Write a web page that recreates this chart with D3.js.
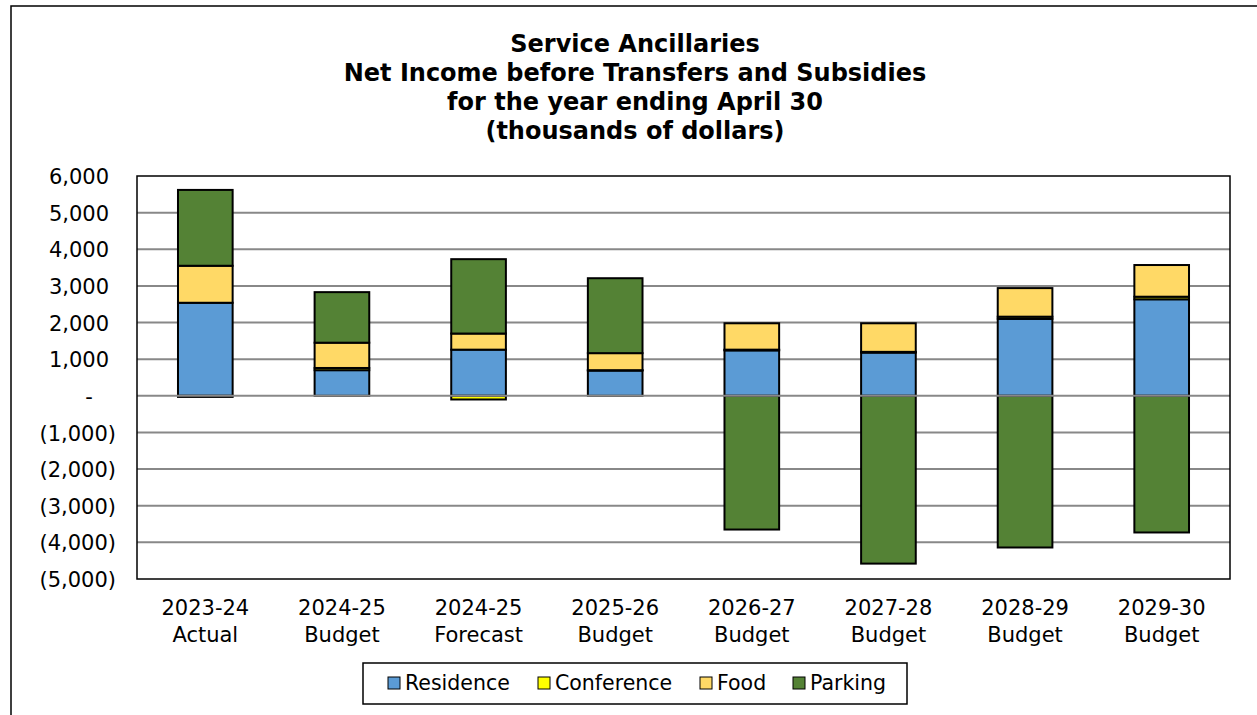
<!DOCTYPE html>
<html lang="en">
  <meta charset="utf-8" />
  <head>
    <title>Service Ancillaries</title>
    <script src="https://cdn.jsdelivr.net/npm/d3@7/dist/d3.min.js"></script>
    <style>
      body { margin: 0; background: #fff; }
      text { font-family: Verdana, "DejaVu Sans", sans-serif; fill: #000; }
    </style>
  </head>
  <body>
  <script>
    // DATA (thousands of dollars)
    var years    = ["2023-24", "2024-25", "2024-25", "2025-26", "2026-27", "2027-28", "2028-29", "2029-30"];
    var kinds    = ["Actual", "Budget", "Forecast", "Budget", "Budget", "Budget", "Budget", "Budget"];
    var residence  = [2540, 700, 1260, 690, 1240, 1180, 2100, 2635];
    var conference = [-30, 60, -100, 10, 20, 20, 60, 70];
    var food       = [1010, 690, 440, 465, 720, 780, 780, 865];
    var parking    = [2070, 1380, 2030, 2045, -3650, -4580, -4140, -3730];
    var seriesNames  = ["Residence", "Conference", "Food", "Parking"];
    var seriesColors = ["#5B9BD5", "#FFFF00", "#FFD966", "#548235"];
    var yTicks = [6000, 5000, 4000, 3000, 2000, 1000, 0, -1000, -2000, -3000, -4000, -5000];
    var titleLines = ["Service Ancillaries", "Net Income before Transfers and Subsidies",
                      "for the year ending April 30", "(thousands of dollars)"];

    // CONFIG
    var width = 1257, height = 715;
    var plot = {left: 137, top: 176, right: 1230, bottom: 579};

    var rows = years.map(function (y, i) {
      return {key: i, Residence: residence[i], Conference: conference[i], Food: food[i], Parking: parking[i]};
    });

    var svg = d3.select("body").append("svg")
        .attr("width", width)
        .attr("height", height);

    // outer chart frame (runs off the right and bottom edge)
    svg.append("rect")
        .attr("x", 11).attr("y", 6)
        .attr("width", 1300).attr("height", 760)
        .attr("fill", "#fff")
        .attr("stroke", "#000").attr("stroke-width", 1.5);

    svg.selectAll(".title")
       .data(titleLines).enter()
       .append("text")
        .attr("class", "title")
        .attr("x", 635)
        .attr("y", (d, i) => 52 + i * 29)
        .attr("text-anchor", "middle")
        .style("font-weight", "bold")
        .style("font-size", "24px")
        .text((d) => d);

    var x = d3.scaleBand()
        .domain(d3.range(years.length))
        .range([plot.left, plot.right])
        .paddingInner(0.6)
        .paddingOuter(0.3);

    var y = d3.scaleLinear()
        .domain([-5000, 6000])
        .range([plot.bottom, plot.top]);

    // gridlines behind the bars
    svg.append("g")
      .selectAll("line")
      .data(yTicks.filter((t) => t !== 6000 && t !== -5000 && t !== 0))
      .enter().append("line")
        .attr("x1", plot.left).attr("x2", plot.right)
        .attr("y1", (t) => y(t)).attr("y2", (t) => y(t))
        .attr("stroke", "#888").attr("stroke-width", 2);

    // y axis labels, accounting style
    function fmt(v) {
      if (v === 0) return "-";
      var s = d3.format(",")(Math.abs(v));
      return v < 0 ? `(${s})` : s;
    }
    var yAxis = d3.axisLeft(y).tickValues(yTicks).tickSize(0).tickFormat(fmt);
    var ya = svg.append("g")
        .attr("transform", `translate(116,0)`)
        .call(yAxis);
    ya.select(".domain").remove();
    ya.selectAll("text")
        .attr("x", (t) => t === 0 ? -27 : (t > 0 ? -7 : 0))
        .attr("text-anchor", (t) => t === 0 ? "middle" : "end")
        .attr("dy", "0.36em")
        .style("font-size", "21px")
        .style("font-family", "Verdana, 'DejaVu Sans', sans-serif")
        .attr("fill", "#000");

    // stacked bars, positives up and negatives down
    var stack = d3.stack()
        .keys(seriesNames)
        .offset(d3.stackOffsetDiverging);
    var layers = stack(rows);

    svg.append("g")
      .selectAll("g")
      .data(layers)
      .enter().append("g")
        .attr("fill", (d, i) => seriesColors[i])
      .selectAll("rect")
      .data((d) => d.filter((p) => p[1] !== p[0]))
      .enter().append("rect")
        .attr("x", (p) => x(p.data.key))
        .attr("width", x.bandwidth())
        .attr("y", (p) => y(Math.max(p[0], p[1])))
        .attr("height", (p) => Math.abs(y(p[0]) - y(p[1])))
        .attr("stroke", "#000")
        .attr("stroke-width", 2);

    // horizontal axis line at zero, over the bars
    svg.append("line")
        .attr("x1", plot.left).attr("x2", plot.right)
        .attr("y1", y(0)).attr("y2", y(0))
        .attr("stroke", "#888").attr("stroke-width", 2);

    // plot border
    svg.append("rect")
        .attr("x", plot.left).attr("y", plot.top)
        .attr("width", plot.right - plot.left)
        .attr("height", plot.bottom - plot.top)
        .attr("fill", "none")
        .attr("stroke", "#000").attr("stroke-width", 1.5);

    // category labels (two lines)
    var cats = svg.append("g")
      .selectAll("text")
      .data(years)
      .enter().append("text")
        .attr("text-anchor", "middle")
        .style("font-size", "21px");
    cats.append("tspan")
        .attr("x", (d, i) => x(i) + x.bandwidth() / 2)
        .attr("y", 615)
        .text((d) => d);
    cats.append("tspan")
        .attr("x", (d, i) => x(i) + x.bandwidth() / 2)
        .attr("y", 642)
        .text((d, i) => kinds[i]);

    // legend
    var legend = svg.append("g");
    legend.append("rect")
        .attr("x", 363).attr("y", 663)
        .attr("width", 544).attr("height", 41)
        .attr("fill", "#fff")
        .attr("stroke", "#000").attr("stroke-width", 1.5);
    var legendX = [388, 538, 700, 793];
    var items = legend.selectAll(".item")
        .data(seriesNames)
        .enter().append("g")
          .attr("class", "item")
          .attr("transform", (d, i) => `translate(${legendX[i]},677)`);
    items.append("rect")
        .attr("width", 12).attr("height", 12)
        .attr("fill", (d, i) => seriesColors[i])
        .attr("stroke", "#000").attr("stroke-width", 1);
    items.append("text")
        .attr("x", 17)
        .attr("y", 13)
        .style("font-size", "20.5px")
        .text((d) => d);
  </script>
  </body>
</html>
